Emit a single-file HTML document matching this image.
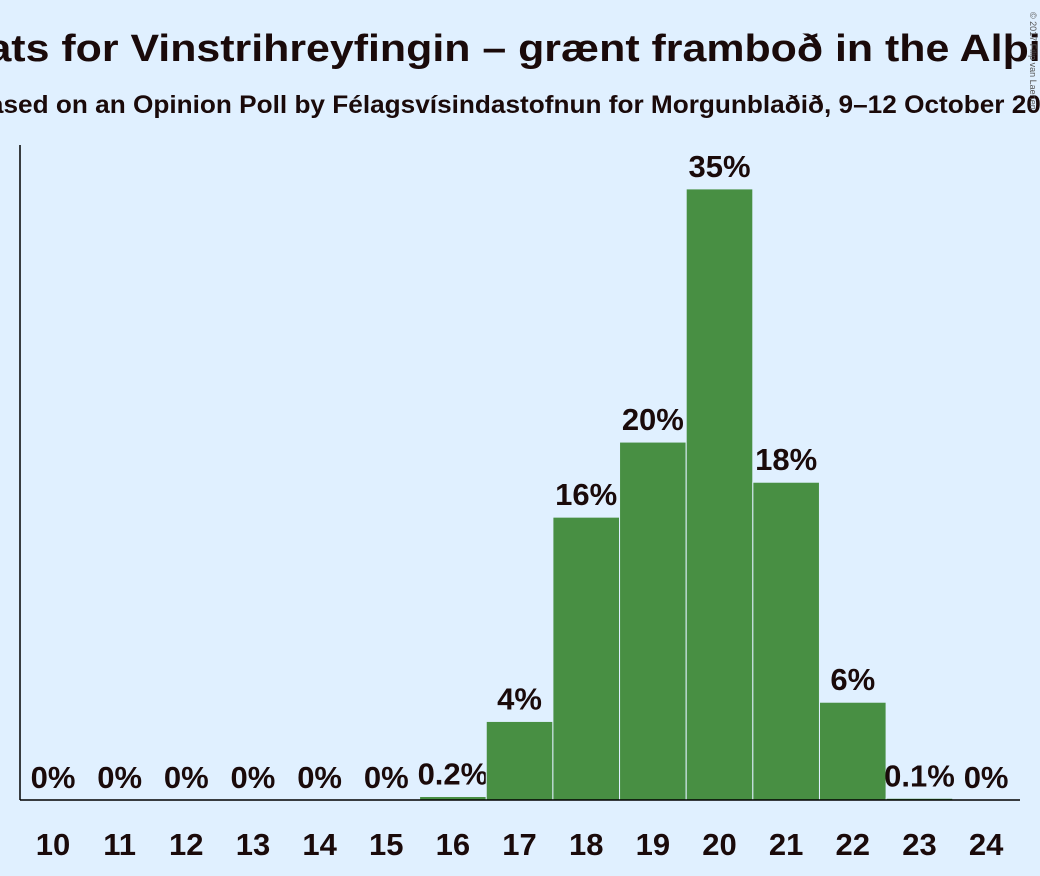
<!DOCTYPE html>
<html><head><meta charset="utf-8"><style>
body{margin:0;background:#e0f0ff;overflow:hidden;}
svg{display:block;font-family:"Liberation Sans",sans-serif;font-weight:bold;}
</style></head><body>
<svg id="c" width="1040" height="876">
<rect width="1040" height="876" fill="#e0f0ff"/>
<text x="520" y="61" text-anchor="middle" font-size="38" textLength="1170" lengthAdjust="spacingAndGlyphs" fill="#1a0a0a">Seats for Vinstrihreyfingin – grænt framboð in the Alþingi</text>
<text x="520" y="113" text-anchor="middle" font-size="25" textLength="1100" lengthAdjust="spacingAndGlyphs" fill="#1a0a0a">Based on an Opinion Poll by Félagsvísindastofnun for Morgunblaðið, 9–12 October 2017</text>
<text x="1034" y="8" font-size="9" font-weight="normal" fill="#555" transform="rotate(90 1030 8)">© 2017 Filip van Laenen</text>
<g id="bars"></g>
<line x1="20" y1="145" x2="20" y2="800" stroke="#000" stroke-width="1.5"/>
<line x1="20" y1="800" x2="1020" y2="800" stroke="#000" stroke-width="1.5"/>
</svg>
<script>
const categories=[10,11,12,13,14,15,16,17,18,19,20,21,22,23,24];
const values=[0,0,0,0,0,0,0.2,4.5,16.2,20.5,35,18.2,5.6,0.1,0];
const labels=["0%","0%","0%","0%","0%","0%","0.2%","4%","16%","20%","35%","18%","6%","0.1%","0%"];
const NS="http://www.w3.org/2000/svg";
const g=document.getElementById('bars');
const x=i=>53+i*66.65;
const y=v=>800-v*17.46;
categories.forEach((c,i)=>{
  const r=document.createElementNS(NS,'rect');
  r.setAttribute('x',x(i)-33.3);r.setAttribute('width',66.6);
  r.setAttribute('y',y(values[i]));r.setAttribute('height',800-y(values[i]));
  r.setAttribute('fill','#488f43');r.setAttribute('stroke','#e0f0ff');r.setAttribute('stroke-width','1');
  
  
  g.appendChild(r);
  const t=document.createElementNS(NS,'text');
  t.setAttribute('x',x(i));t.setAttribute('y',y(values[i])-12);
  t.setAttribute('text-anchor','middle');t.setAttribute('font-size','31');t.setAttribute('fill','#1a0a0a');
  t.textContent=labels[i];
  
  
  g.appendChild(t);
  const k=document.createElementNS(NS,'text');
  k.setAttribute('x',x(i));k.setAttribute('y',855);
  k.setAttribute('text-anchor','middle');k.setAttribute('font-size','31');k.setAttribute('fill','#1a0a0a');
  k.textContent=c;
  
  
  g.appendChild(k);
});
</script>
</body></html>
